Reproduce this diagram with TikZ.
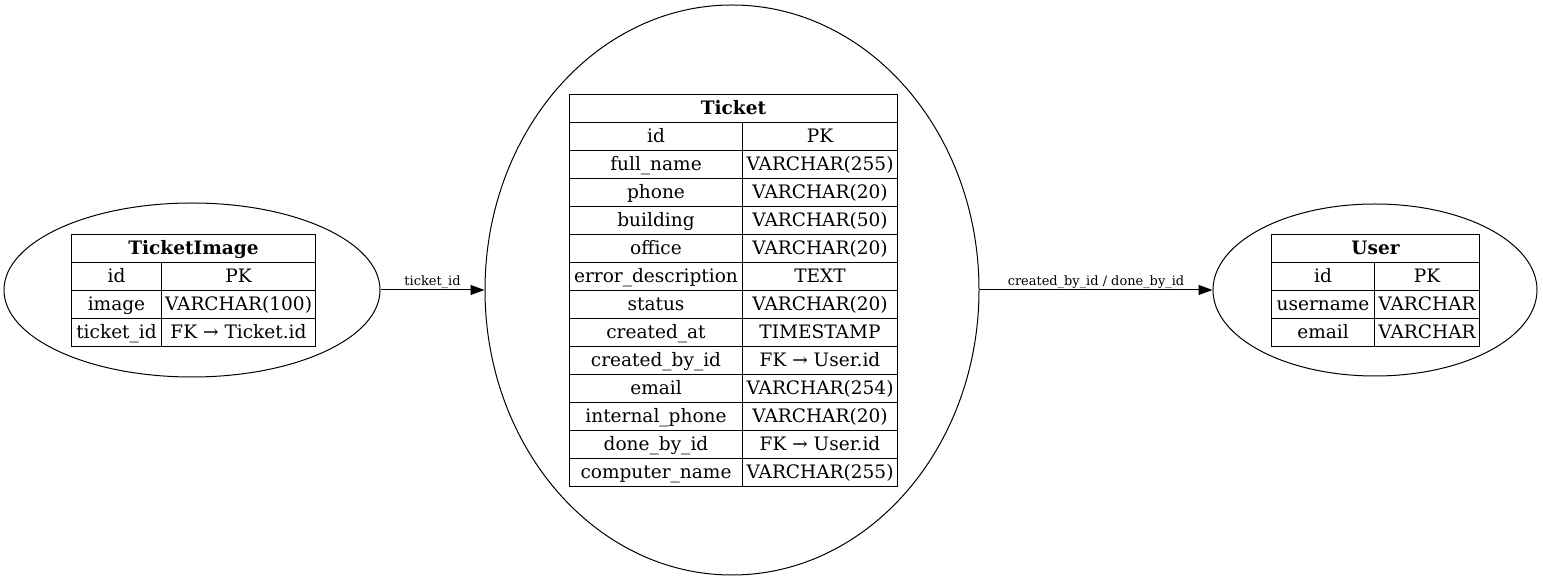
\documentclass[tikz,border=0pt]{standalone}
\usepackage{fontspec}
\setmainfont{DejaVu Serif}
\usetikzlibrary{arrows.meta,shapes.geometric}
\newcommand{\erow}[7]{%
  \pgfmathsetmacro{\wl}{(#4-#3)*0.75}%
  \pgfmathsetmacro{\wr}{(#5-#4)*0.75}%
  \node[cell, minimum width=\wl pt, anchor=north west] (#1a) at (#3,#2) {#6};
  \node[cell, minimum width=\wr pt, anchor=north west] (#1b) at (#4,#2) {#7};
}
\newcommand{\ehead}[5]{%
  \pgfmathsetmacro{\wh}{(#4-#3)*0.75}%
  \node[cell, minimum width=\wh pt, anchor=north west, font=\fontsize{13.9}{15}\selectfont\bfseries] (#1) at (#3,#2) {#5};
}
\begin{document}
\begin{tikzpicture}[x=0.75pt,y=-0.75pt,
  cell/.style={draw, line width=0.75pt, minimum height=21pt, inner sep=0pt, text height=11.5pt, text depth=2.5pt, font=\fontsize{13.9}{15}\selectfont},
  entity/.style={draw, ellipse, line width=0.75pt, inner sep=0pt},
  rel/.style={draw, line width=0.75pt, -{Triangle[length=10.5pt,width=7.5pt]}},
  rlabel/.style={font=\fontsize{9.7}{11}\selectfont, above, inner sep=1pt}]
\useasboundingbox (0,0) rectangle (1543,580);
% ellipses
\node[entity, minimum width=282pt, minimum height=130.5pt] (eimg) at (192,290) {};
\node[entity, minimum width=370.5pt, minimum height=427.5pt] (etk) at (732,290) {};
\node[entity, minimum width=243pt, minimum height=129pt] (eusr) at (1375,290) {};
% TicketImage
\ehead{ih}{234}{71}{315}{TicketImage}
\erow{ia}{262}{71}{161}{315}{id}{PK}
\erow{ib}{290}{71}{161}{315}{image}{VARCHAR(100)}
\erow{ic}{318}{71}{161}{315}{ticket\_id}{FK → Ticket.id}
% Ticket
\ehead{th}{94}{569}{897}{Ticket}
\erow{ta}{122}{569}{742}{897}{id}{PK}
\erow{tb}{150}{569}{742}{897}{full\_name}{VARCHAR(255)}
\erow{tc}{178}{569}{742}{897}{phone}{VARCHAR(20)}
\erow{td}{206}{569}{742}{897}{building}{VARCHAR(50)}
\erow{te}{234}{569}{742}{897}{office}{VARCHAR(20)}
\erow{tf}{262}{569}{742}{897}{error\_description}{TEXT}
\erow{tg}{290}{569}{742}{897}{status}{VARCHAR(20)}
\erow{ti}{318}{569}{742}{897}{created\_at}{TIMESTAMP}
\erow{tj}{346}{569}{742}{897}{created\_by\_id}{FK → User.id}
\erow{tk}{374}{569}{742}{897}{email}{VARCHAR(254)}
\erow{tl}{402}{569}{742}{897}{internal\_phone}{VARCHAR(20)}
\erow{tm}{430}{569}{742}{897}{done\_by\_id}{FK → User.id}
\erow{tn}{458}{569}{742}{897}{computer\_name}{VARCHAR(255)}
% User
\ehead{uh}{234}{1271}{1479}{User}
\erow{ua}{262}{1271}{1374}{1479}{id}{PK}
\erow{ub}{290}{1271}{1374}{1479}{username}{VARCHAR}
\erow{uc}{318}{1271}{1374}{1479}{email}{VARCHAR}
% relations
\draw[rel] (eimg.east) -- node[rlabel] {ticket\_id} (etk.west);
\draw[rel] (etk.east) -- node[rlabel] {created\_by\_id / done\_by\_id} (eusr.west);
\end{tikzpicture}
\end{document}
